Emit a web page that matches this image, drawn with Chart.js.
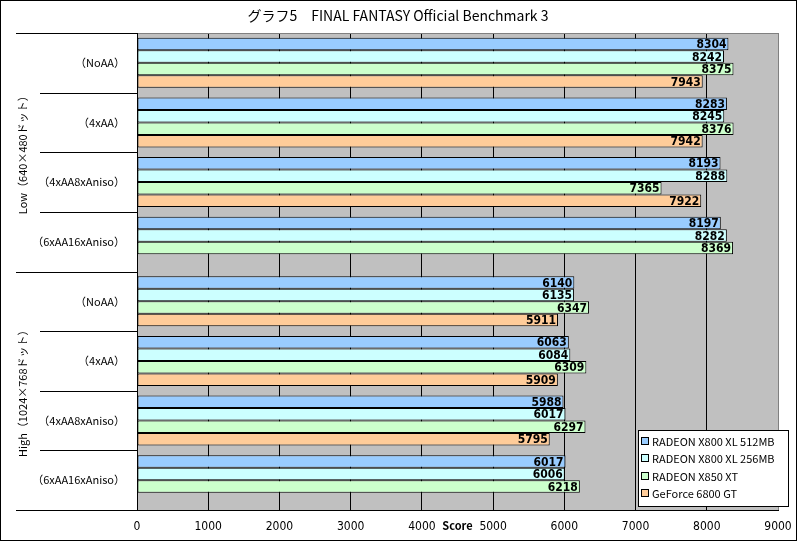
<!doctype html>
<html lang="ja">
<head>
<meta charset="UTF-8">
<script src="https://cdn.jsdelivr.net/npm/chart.js@4.4.1/dist/chart.umd.min.js"></script>
<title>グラフ5 FINAL FANTASY Official Benchmark 3</title>
<style>
  * { margin: 0; padding: 0; box-sizing: border-box; }
  body { background: #fff; }
  #wrap { position: relative; width: 797px; height: 541px; }
  #canvas { display: block; }
</style>
</head>
<body>
<div id="wrap"><canvas id="canvas" width="797" height="541"></canvas></div>
<script>
// categories (top to bottom) and their groups
const categories = ["（NoAA）", "（4xAA）", "（4xAA8xAniso）", "（6xAA16xAniso）",
                    "（NoAA）", "（4xAA）", "（4xAA8xAniso）", "（6xAA16xAniso）"];
const groups = ["Low（640×480ドット）", "High（1024×768ドット）"];

// series
const seriesNames = ["RADEON X800 XL 512MB", "RADEON X800 XL 256MB", "RADEON X850 XT", "GeForce 6800 GT"];
const seriesColors = ["#99ccff", "#ccffff", "#ccffcc", "#ffcc99"];
const radeon512 = [8304, 8283, 8193, 8197, 6140, 6063, 5988, 6017];
const radeon256 = [8242, 8245, 8288, 8282, 6135, 6084, 6017, 6006];
const radeon850 = [8375, 8376, 7365, 8369, 6347, 6309, 6297, 6218];
const geforce = [7943, 7942, 7922, null, 5911, 5909, 5795, null];

const xTicks = [0, 1000, 2000, 3000, 4000, 5000, 6000, 7000, 8000, 9000];

const narrow = "'Liberation Sans Narrow', 'DejaVu Sans Condensed', 'Liberation Sans', sans-serif";
const jp = "'Noto Sans CJK JP', 'Noto Sans', sans-serif";

// グレー背景・枠線・左側の区切り線・グループ名・タイトル・凡例
const decor = {
    id: "decor",
    beforeDraw(chart) {
        const ctx = chart.ctx;
        const a = chart.chartArea;
        ctx.save();
        ctx.fillStyle = "#fff";
        ctx.fillRect(0, 0, chart.width, chart.height);
        ctx.fillStyle = "#c0c0c0";
        ctx.fillRect(a.left, a.top, a.right - a.left, a.bottom - a.top);
        ctx.restore();
    },
    afterDraw(chart) {
        const ctx = chart.ctx;
        const a = chart.chartArea;
        const n = categories.length;
        const h = (a.bottom - a.top) / n;
        ctx.save();
        ctx.lineWidth = 1;
        // plot border
        ctx.strokeStyle = "#808080";
        ctx.strokeRect(a.left + 0.5, a.top + 0.5, a.right - a.left, a.bottom - a.top);
        ctx.strokeStyle = "#000";
        ctx.beginPath();
        ctx.moveTo(a.left + 0.5, a.top);
        ctx.lineTo(a.left + 0.5, a.bottom);
        ctx.moveTo(a.left, a.bottom + 0.5);
        ctx.lineTo(a.right + 1, a.bottom + 0.5);
        for (let i = 0; i <= n; i++) {
            const y = Math.round(a.top + i * h) + 0.5;
            const x0 = (i % 4 === 0) ? 16 : 40;
            ctx.moveTo(x0, y);
            ctx.lineTo(a.left, y);
        }
        ctx.stroke();

        // group labels
        ctx.fillStyle = "#000";
        ctx.font = "11px " + jp;
        ctx.textAlign = "center";
        ctx.textBaseline = "middle";
        groups.forEach((g, i) => {
            const yc = a.top + (i * 4 + 2) * h;
            ctx.save();
            ctx.translate(23, yc);
            ctx.rotate(-Math.PI / 2);
            ctx.fillText(g, 0, 0);
            ctx.restore();
        });

        // title
        ctx.font = "14px " + jp;
        ctx.fillText("グラフ5　FINAL FANTASY Official Benchmark 3", 398, 16);

        // axis title
        ctx.font = "bold 11px " + jp;
        ctx.fillText("Score", (a.left + a.right) / 2, 526);

        // legend
        const lx = 638, ly = 430, lw = 150, lh = 76;
        ctx.fillStyle = "#fff";
        ctx.fillRect(lx, ly, lw, lh);
        ctx.strokeStyle = "#000";
        ctx.strokeRect(lx + 0.5, ly + 0.5, lw, lh);
        ctx.font = "11px " + jp;
        ctx.textAlign = "left";
        seriesNames.forEach((s, i) => {
            const y = ly + 11 + i * 17.3;
            ctx.fillStyle = seriesColors[i];
            ctx.fillRect(lx + 3, Math.round(y) - 4, 7, 7);
            ctx.strokeRect(lx + 3.5, Math.round(y) - 3.5, 7, 7);
            ctx.fillStyle = "#000";
            ctx.fillText(s, lx + 14, y + 1);
        });

        // outer frame
        ctx.strokeRect(0.5, 0.5, chart.width - 1, chart.height - 1);
        ctx.restore();
    },
    afterDatasetsDraw(chart) {
        const ctx = chart.ctx;
        ctx.save();
        ctx.font = "bold 12px " + narrow;
        ctx.fillStyle = "#000";
        ctx.textAlign = "right";
        ctx.textBaseline = "middle";
        chart.data.datasets.forEach((ds, di) => {
            chart.getDatasetMeta(di).data.forEach((bar, i) => {
                if (ds.data[i] == null) return;
                ctx.fillText(String(ds.data[i]), bar.x - 2, bar.y + 1);
            });
        });
        ctx.restore();
    }
};

const allSeries = [radeon512, radeon256, radeon850, geforce];

new Chart(document.getElementById("canvas"), {
    type: "bar",
    data: {
        labels: categories,
        datasets: allSeries.map((d, i) => ({
            label: seriesNames[i],
            data: d,
            backgroundColor: seriesColors[i],
            borderColor: "#000",
            borderWidth: 1,
            borderSkipped: false,
            categoryPercentage: 0.84,
            barPercentage: 1.0
        }))
    },
    options: {
        indexAxis: "y",
        responsive: false,
        animation: false,
        layout: { padding: { top: 33, right: 19, left: 0, bottom: 0 } },
        plugins: { legend: { display: false }, tooltip: { enabled: false } },
        scales: {
            x: {
                min: 0,
                max: 9000,
                afterBuildTicks(scale) { scale.ticks = xTicks.map(v => ({ value: v })); },
                afterFit(scale) {
                    scale.height = 31;
                    scale.paddingLeft = 0;
                    scale.paddingRight = 0;
                },
                grid: { color: "#000", drawTicks: false },
                border: { display: false },
                ticks: {
                    padding: 10,
                    color: "#000",
                    font: { family: narrow, size: 12 },
                    callback: v => String(v)
                }
            },
            y: {
                afterFit(scale) { scale.width = 137; },
                grid: { display: false, drawTicks: false },
                border: { display: false },
                ticks: {
                    padding: 12,
                    color: "#000",
                    font: { family: jp, size: 11 }
                }
            }
        }
    },
    plugins: [decor]
});
</script>
</body>
</html>
